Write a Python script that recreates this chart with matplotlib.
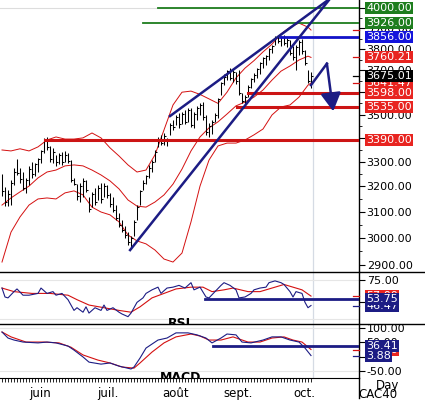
import matplotlib
matplotlib.use('Agg')
import matplotlib.pyplot as plt
import matplotlib.transforms as mtransforms
from matplotlib.lines import Line2D
from matplotlib.ticker import FixedLocator, NullFormatter

# daily OHLC (CAC40, mid May -> early Oct), index = trading day
highs = [3250, 3197, 3185, 3226, 3274, 3312, 3274, 3258, 3234, 3283,
         3300, 3295, 3316, 3350, 3400, 3404, 3367, 3358, 3329, 3337,
         3342, 3346, 3337, 3308, 3234, 3209, 3213, 3234, 3226, 3158,
         3178, 3193, 3205, 3213, 3213, 3205, 3174, 3158, 3126, 3095,
         3068, 3045, 3022, 3008, 3068, 3126, 3185, 3226, 3246, 3287,
         3308, 3350, 3404, 3413, 3421, 3400, 3465, 3478, 3500, 3508,
         3513, 3521, 3530, 3530, 3513, 3539, 3553, 3557, 3500, 3465,
         3478, 3508, 3575, 3648, 3685, 3703, 3712, 3703, 3694, 3703,
         3597, 3588, 3634, 3666, 3689, 3712, 3740, 3764, 3773, 3806,
         3821, 3864, 3869, 3864, 3869, 3854, 3845, 3816, 3821, 3845,
         3850, 3797, 3703, 3694]
lows = [3162, 3122, 3122, 3126, 3205, 3246, 3213, 3185, 3174, 3205,
        3234, 3242, 3258, 3295, 3337, 3350, 3300, 3295, 3283, 3291,
        3287, 3300, 3295, 3218, 3205, 3146, 3138, 3158, 3178, 3099,
        3118, 3126, 3146, 3134, 3158, 3154, 3118, 3099, 3068, 3041,
        3022, 3000, 2974, 2959, 3008, 3068, 3126, 3185, 3209, 3234,
        3258, 3300, 3362, 3371, 3371, 3367, 3413, 3434, 3456, 3443,
        3460, 3460, 3469, 3447, 3443, 3478, 3500, 3478, 3413, 3404,
        3417, 3469, 3487, 3588, 3634, 3657, 3657, 3648, 3639, 3588,
        3553, 3539, 3579, 3620, 3648, 3666, 3685, 3712, 3726, 3750,
        3783, 3821, 3830, 3816, 3821, 3811, 3773, 3750, 3703, 3773,
        3778, 3726, 3643, 3620]
closes = [3180, 3140, 3170, 3215, 3260, 3255, 3230, 3195, 3225, 3270,
          3250, 3290, 3310, 3345, 3390, 3360, 3310, 3340, 3300, 3330,
          3300, 3330, 3305, 3225, 3210, 3160, 3200, 3220, 3185, 3110,
          3170, 3140, 3195, 3150, 3200, 3165, 3130, 3105, 3075, 3050,
          3030, 3010, 2985, 3000, 3060, 3120, 3180, 3215, 3240, 3275,
          3300, 3340, 3395, 3380, 3410, 3395, 3455, 3445, 3490, 3460,
          3505, 3470, 3520, 3455, 3505, 3530, 3545, 3490, 3425, 3450,
          3470, 3500, 3570, 3640, 3670, 3695, 3665, 3690, 3650, 3595,
          3560, 3580, 3625, 3660, 3680, 3705, 3735, 3755, 3765, 3800,
          3815, 3855, 3840, 3855, 3830, 3845, 3780, 3760, 3810, 3835,
          3790, 3735, 3650, 3675.01]

# bollinger bands, read every 3rd day
band_x = [0, 3, 6, 9, 12, 15, 18, 21, 24, 27, 30, 33, 36, 39, 42, 45, 48, 51,
          54, 57, 60, 63, 66, 69, 72, 75, 78, 81, 84, 87, 90, 93, 96, 99, 102, 103]
bb_up = [3349, 3345, 3354, 3345, 3362, 3391, 3404, 3395, 3395, 3400, 3421, 3400,
         3358, 3324, 3287, 3258, 3266, 3329, 3434, 3543, 3600, 3605, 3590, 3570,
         3550, 3600, 3665, 3710, 3745, 3786, 3823, 3872, 3905, 3925, 3905, 3891]
bb_mid = [3126, 3154, 3178, 3201, 3234, 3258, 3266, 3283, 3287, 3283, 3266, 3246,
          3222, 3190, 3146, 3122, 3118, 3138, 3166, 3209, 3270, 3345, 3404, 3443,
          3469, 3503, 3539, 3556, 3578, 3610, 3655, 3696, 3720, 3748, 3766, 3760.21]
bb_low = [2911, 3022, 3080, 3126, 3150, 3154, 3150, 3174, 3182, 3166, 3118, 3099,
          3088, 3061, 3011, 2989, 2978, 2955, 2922, 2911, 2944, 3061, 3201, 3307,
          3366, 3378, 3378, 3391, 3413, 3438, 3499, 3534, 3543, 3578, 3632, 3641.47]

# RSI and its average
rsi_x = [0, 1, 2, 4, 5, 7, 9, 12, 13, 15, 17, 18, 20, 22, 24, 25, 27, 28, 29, 31,
         33, 34, 35, 37, 39, 40, 42, 43, 45, 47, 48, 50, 52, 53, 55, 57, 59, 61, 63, 64,
         66, 68, 69, 71, 73, 74, 76, 78, 79, 81, 83, 84, 86, 88, 89, 91, 93, 94, 96, 97,
         98, 100, 101, 102, 103]
rsi_v = [66, 56, 55, 62, 65, 58, 58, 60, 66, 60, 62, 58, 60, 53, 41, 44, 39, 45, 38, 44,
         41, 47, 41, 44, 39, 37, 34, 38, 50, 55, 60, 64, 67, 60, 66, 67, 69, 66, 72, 64,
         67, 56, 55, 62, 69, 72, 69, 64, 55, 56, 60, 64, 66, 67, 72, 74, 72, 70, 62, 56,
         62, 60, 50, 44, 46.47]
rsi_ma_x = [0, 4, 10, 16, 22, 25, 29, 34, 39, 43, 46, 50, 54, 58, 63, 67, 70, 74, 77,
            82, 86, 91, 94, 97, 100, 103]
rsi_ma_v = [66, 62, 60, 60, 58, 53, 47, 44, 41, 39, 45, 55, 60, 65, 67, 67, 62, 64, 66,
            62, 62, 67, 70, 67, 64, 57]

# MACD and signal
macd_x = [0, 2, 4, 7, 12, 15, 18, 22, 24, 27, 29, 33, 36, 39, 43, 44, 46, 48, 52, 55,
          58, 62, 65, 68, 70, 73, 75, 78, 80, 83, 87, 90, 93, 96, 99, 101, 103]
macd_v = [86, 65, 58, 51, 48, 51, 48, 37, 23, -1, -19, -26, -22, -33, -43, -36, -5, 30, 58, 65,
          83, 83, 76, 65, 48, 65, 79, 76, 51, 48, 58, 69, 69, 58, 51, 30, 3.88]
sig_x = [0, 3, 8, 14, 19, 23, 27, 32, 36, 40, 44, 46, 50, 54, 58, 63, 66, 69, 73, 77,
         82, 86, 90, 94, 97, 100, 103]
sig_v = [86, 69, 51, 51, 48, 33, 6, -12, -22, -36, -40, -22, 16, 48, 69, 79, 72, 58, 58, 69,
         51, 51, 65, 69, 58, 51, 25]

months = ['juin', 'juil.', 'août', 'sept.', 'oct.']
month_x = [12.7, 35.3, 58, 78.7, 100.7]

# analyst lines: (level, start day, colour, width)
levels = [(4000, 52, '#1e7d1e', 1.3), (3926, 47, '#1e7d1e', 1.3),
          (3856, 92.7, '#1212c8', 2.0), (3598, 82, '#cc1414', 2.2),
          (3535, 78.3, '#cc1414', 2.2), (3390, 14.3, '#cc1414', 2.2)]
tags = [(3641.47, '#e82420'), (4000, '#1e7d1e'), (3926, '#1e7d1e'), (3856, '#1414dc'),
        (3760.21, '#e82420'), (3675.01, 'black'), (3598, '#e82420'),
        (3535, '#e82420'), (3390, '#e82420')]

NAVY = '#1c1c84'
RED = '#d41010'
XMAX = 119
W = 359 / 425

fig = plt.figure(figsize=(4.25, 4.0), dpi=100)
ax1 = fig.add_axes([0, 0.32, W, 0.68])
ax2 = fig.add_axes([0, 0.19, W, 0.13])
ax3 = fig.add_axes([0, 0.055, W, 0.135])

for ax in (ax1, ax2, ax3):
    ax.set_xlim(-0.667, XMAX)
    for s in ('top', 'left', 'bottom'):
        ax.spines[s].set_visible(False)
    ax.spines['right'].set_linewidth(1)
    ax.yaxis.tick_right()
    ax.tick_params(axis='y', which='major', length=4, width=0.8, pad=1.5, labelsize=8)
    ax.tick_params(axis='y', which='minor', length=2, width=0.6)
    ax.tick_params(axis='x', bottom=False, labelbottom=False)
    ax.axvline(103.7, color='#d5dbe4', lw=0.9, zorder=0)


def tag(ax, y, txt, fc, z=6):
    tr = mtransforms.blended_transform_factory(ax.transAxes, ax.transData)
    ax.text(1 + 7 / 359, y, txt, transform=tr, ha='left', va='center', fontsize=8,
            color='white', zorder=z, clip_on=False,
            bbox=dict(boxstyle='square,pad=0.1', fc=fc, ec='none'))


def mark(ax, y, color):
    ax.plot([117, XMAX], [y, y], color=color, lw=0.9, clip_on=False, zorder=4)


# ---- price panel
ax1.set_yscale('log')
ax1.set_ylim(2875, 4040)
ax1.yaxis.set_major_locator(FixedLocator(list(range(2900, 4001, 100))))
ax1.yaxis.set_minor_locator(FixedLocator(list(range(2950, 4000, 100))))
ax1.yaxis.set_minor_formatter(NullFormatter())
ax1.set_yticklabels(['%.2f' % v for v in range(2900, 4001, 100)])
ax1.axhline(4000, color='#dddddd', lw=0.8, zorder=0)

days = list(range(len(highs)))
ax1.vlines(days, lows, highs, color='black', lw=0.75, zorder=3)
ax1.hlines(closes, days, [d + 0.55 for d in days], color='black', lw=0.75, zorder=3)

for b in (bb_up, bb_mid, bb_low):
    ax1.plot(band_x, b, color=RED, lw=0.7, zorder=2)

for lev, start, col, lw in levels:
    ax1.plot([start, XMAX], [lev, lev], color=col, lw=lw, zorder=4)

ax1.plot([42.7, 109], [2955, 4040], color=NAVY, lw=1.8, zorder=5)
ax1.plot([56, 108.7], [3494, 4040], color=NAVY, lw=1.8, zorder=5)
ax1.plot([103, 108.3], [3632, 3731], color=NAVY, lw=1.8, zorder=5)
ax1.annotate('', xy=(110.4, 3515), xytext=(108.3, 3731),
             arrowprops=dict(arrowstyle='-|>,head_length=0.5,head_width=0.28',
                             color=NAVY, lw=1.8, mutation_scale=22,
                             shrinkA=0, shrinkB=0), zorder=5)

mark(ax1, bb_up[-1], RED)
mark(ax1, bb_mid[-1], RED)
mark(ax1, bb_low[-1], RED)
mark(ax1, closes[-1], 'black')
for i, (v, c) in enumerate(tags):
    tag(ax1, v, '%.2f' % v, c, z=6 + i)

# ---- RSI panel
ax2.set_ylim(25.8, 83.95)
ax2.set_yticks([50, 75])
ax2.set_yticklabels(['50.00', '75.00'])
ax2.axhline(75, color='#e6e6e6', lw=0.8, zorder=0)
ax2.axhline(31, color='#e6e6e6', lw=0.8, zorder=0)
ax2.plot(rsi_ma_x, rsi_ma_v, color=RED, lw=0.8, zorder=2)
ax2.plot(rsi_x, rsi_v, color=NAVY, lw=0.8, zorder=3)
ax2.plot([67.7, XMAX], [53.75, 53.75], color=NAVY, lw=2.0, zorder=4)
ax2.text(59, 34, 'RSI', ha='center', va='top', fontsize=9, fontweight='bold', clip_on=True)
mark(ax2, rsi_ma_v[-1], RED)
mark(ax2, rsi_v[-1], NAVY)
tag(ax2, rsi_ma_v[-1], '%.2f' % rsi_ma_v[-1], '#e82420', z=6)
tag(ax2, rsi_v[-1], '%.2f' % rsi_v[-1], NAVY, z=7)
tag(ax2, 53.75, '53.75', NAVY, z=8)

# ---- MACD panel
ax3.set_ylim(-74.4, 113.95)
ax3.set_yticks([-50, 0, 50, 100])
ax3.set_yticklabels(['-50.00', '0.00', '50.00', '100.00'])
ax3.axhline(100, color='#e6e6e6', lw=0.8, zorder=0)
ax3.axhline(-50, color='#e6e6e6', lw=0.8, zorder=0)
ax3.plot(sig_x, sig_v, color=RED, lw=0.8, zorder=2)
ax3.plot(macd_x, macd_v, color=NAVY, lw=0.8, zorder=3)
ax3.plot([70.3, XMAX], [36.41, 36.41], color=NAVY, lw=2.0, zorder=4)
ax3.text(59.5, -50, 'MACD', ha='center', va='top', fontsize=9, fontweight='bold', clip_on=True)
mark(ax3, sig_v[-1], RED)
mark(ax3, macd_v[-1], NAVY)
tag(ax3, sig_v[-1], '%.2f' % sig_v[-1], '#e82420', z=6)
tag(ax3, 36.41, '36.41', NAVY, z=7)
tag(ax3, macd_v[-1], '%.2f' % macd_v[-1], NAVY, z=8)

ax3.spines['bottom'].set_visible(True)
ax3.set_xticks(days)
ax3.tick_params(axis='x', bottom=True, length=3, width=0.6, labelbottom=False)
trx = mtransforms.blended_transform_factory(ax3.transData, ax3.transAxes)
for m, mx in zip(months, month_x):
    ax3.text(mx, -0.28, m, transform=trx, ha='center', va='center', fontsize=8.5)

# panel separators and axis extension
fig.add_artist(Line2D([0, 1], [0.32, 0.32], color='black', lw=1))
fig.add_artist(Line2D([0, 1], [0.19, 0.19], color='black', lw=1))
fig.add_artist(Line2D([W, W], [0.005, 0.055], color='black', lw=1))
fig.text(388 / 425, 1 - 386 / 400, 'Day', ha='center', va='center', fontsize=8.5)
fig.text(378 / 425, 1 - 395 / 400, 'CAC40', ha='center', va='center', fontsize=8.5)

fig.savefig('out.png', dpi=100)
